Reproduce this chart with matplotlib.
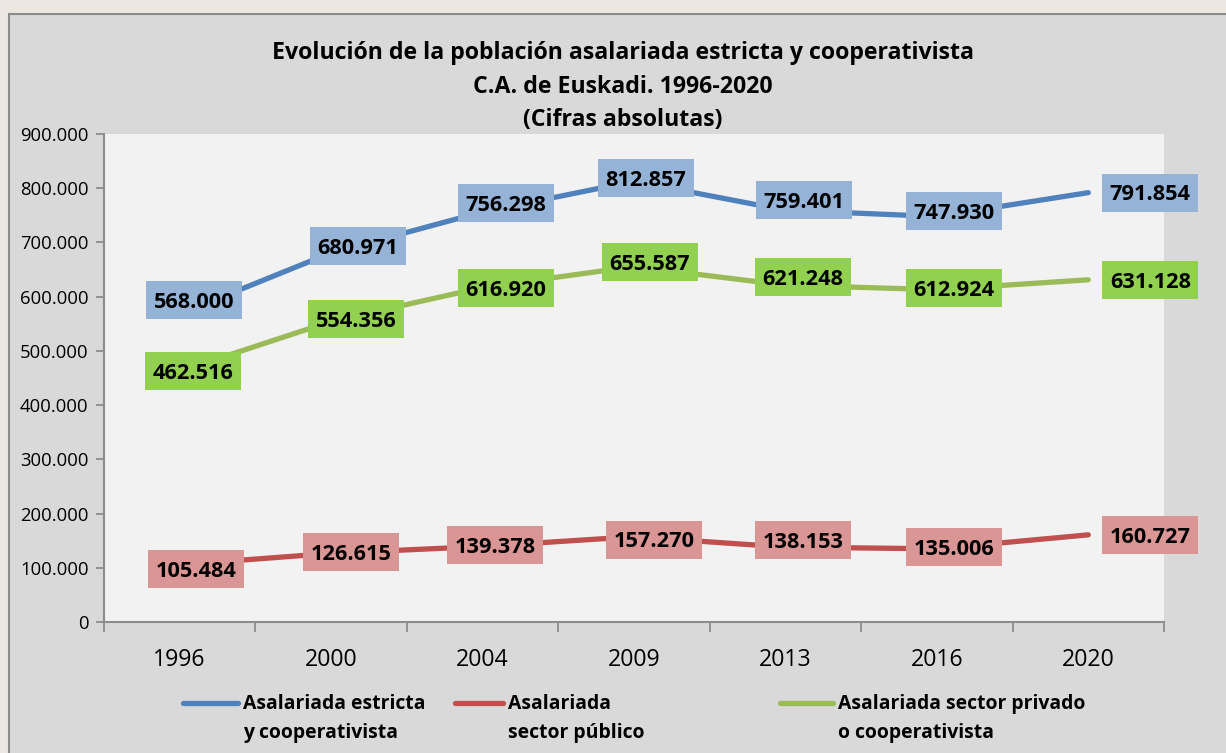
import matplotlib
matplotlib.use("Agg")
import matplotlib.pyplot as plt
from matplotlib.lines import Line2D
from matplotlib.patches import Rectangle
from matplotlib.transforms import IdentityTransform
from matplotlib.ticker import FuncFormatter, FixedLocator

years = ["1996", "2000", "2004", "2009", "2013", "2016", "2020"]
estricta = [568000, 680971, 756298, 812857, 759401, 747930, 791854]
publico = [105484, 126615, 139378, 157270, 138153, 135006, 160727]
privado = [462516, 554356, 616920, 655587, 621248, 612924, 631128]

series_names = [["Asalariada estricta", "y cooperativista"],
                ["Asalariada", "sector público"],
                ["Asalariada sector privado", "o cooperativista"]]
title_lines = ["Evolución de la población asalariada estricta y cooperativista",
               "C.A. de Euskadi. 1996-2020",
               "(Cifras absolutas)"]

# data-label offsets from the point, in pixels (dx right, dy up)
off_est = [(14, 14), (27, 7), (23.5, 9), (12, 3), (18.6, 10), (17, 5.5), (62, 0)]
off_pub = [(16, -4), (20, 1), (12.5, 1), (20, -3), (17.6, 7), (17, 2), (62, 0)]
off_pri = [(13, 0), (25, 2), (23.5, -0.5), (16, 4.5), (17.6, 8), (17, 1.6), (62, 0)]

line_cols = ["#4f81bd", "#c0504d", "#9bbb59"]
box_cols = ["#95b3d7", "#da9694", "#92d050"]

W, H = 1226, 753
fig = plt.figure(figsize=(W / 100, H / 100), dpi=100)
fig.patch.set_facecolor("#ece8e1")
fig.add_artist(Rectangle((9 / W, -0.01), 1.02, (H - 14) / H + 0.01, transform=fig.transFigure,
                         facecolor="#d9d9d9", edgecolor="#8c8c8c", linewidth=1.5, zorder=0))
renderer = fig.canvas.get_renderer()

FONT = ["Open Sans", "DejaVu Sans"]


def fit_size(text, target_px, weight="normal"):
    t = fig.text(0, 0, text, fontsize=10, fontweight=weight, family=FONT)
    w = t.get_window_extent(renderer).width
    t.remove()
    return 10 * target_px / w


ax = fig.add_axes([104 / W, 1 - 622 / H, (1164 - 104) / W, (622 - 134) / H])
ax.set_facecolor("#f2f2f2")
ax.set_xlim(-0.5, 6.5)
ax.set_ylim(0, 900000)
x = list(range(len(years)))

lab_fs = fit_size("568.000", 81, "bold")
lab_px = lab_fs * 100 / 72
BOX_W, BOX_H = 96, 38
idt = IdentityTransform()
for vals, lc, bc, offs in [(estricta, line_cols[0], box_cols[0], off_est),
                           (publico, line_cols[1], box_cols[1], off_pub),
                           (privado, line_cols[2], box_cols[2], off_pri)]:
    ax.plot(x, vals, color=lc, linewidth=3.8, solid_capstyle="round", zorder=2)
    for xi, v, (dx, dy) in zip(x, vals, offs):
        px, py = ax.transData.transform((xi, v))
        cx, cy = px + dx, py + dy
        fig.add_artist(Rectangle((cx - BOX_W / 2, cy - BOX_H / 2), BOX_W, BOX_H,
                                 transform=idt, facecolor=bc, edgecolor="none", zorder=3))
        s = f"{v:,}".replace(",", ".")
        fig.text(cx, cy - 0.357 * lab_px, s, transform=idt, ha="center", va="baseline",
                 fontsize=lab_fs, fontweight="bold", family=FONT, color="black", zorder=4)

ax.yaxis.set_major_locator(FixedLocator(range(0, 900001, 100000)))
ax.yaxis.set_major_formatter(FuncFormatter(lambda v, p: f"{int(v):,}".replace(",", ".")))
ax.set_xticks(x)
ax.set_xticklabels(years)
ax.set_xticks([i - 0.5 for i in range(len(years) + 1)], minor=True)
ax.tick_params(axis="x", which="major", length=0, pad=19, labelsize=fit_size("1996", 53),
               labelcolor="black")
ax.tick_params(axis="x", which="minor", length=7, width=1.3, color="#8c8c8c", direction="out")
ax.tick_params(axis="y", which="major", length=6, width=1.3, color="#8c8c8c", direction="out",
               labelsize=fit_size("900.000", 69), pad=5)
for lab in ax.get_xticklabels() + ax.get_yticklabels():
    lab.set_family(FONT)
for sp in ["top", "right"]:
    ax.spines[sp].set_visible(False)
for sp in ["left", "bottom"]:
    ax.spines[sp].set_color("#8c8c8c")
    ax.spines[sp].set_linewidth(1.5)

title_fs = fit_size(title_lines[0], 705, "bold")
for line, yp in zip(title_lines, [53, 87, 120]):
    fig.text(623 / W, 1 - yp / H, line, ha="center", va="center", fontsize=title_fs,
             fontweight="bold", family=FONT)

# legend
leg_fs = fit_size("Asalariada estricta", 182, "bold")
leg_items = [(183, 238, 243), (455, 503, 508), (780, 833, 838)]
for (x0, x1, tx), lc, name in zip(leg_items, line_cols, series_names):
    fig.add_artist(Line2D([x0 / W, x1 / W], [1 - 703 / H] * 2, transform=fig.transFigure,
                          color=lc, linewidth=3.8, solid_capstyle="round"))
    for ln, yp in zip(name, [704, 733]):
        fig.text(tx / W, 1 - yp / H, ln, ha="left", va="center", fontsize=leg_fs,
                 fontweight="bold", family=FONT)

fig.savefig("out.png", dpi=100, facecolor=fig.get_facecolor())
